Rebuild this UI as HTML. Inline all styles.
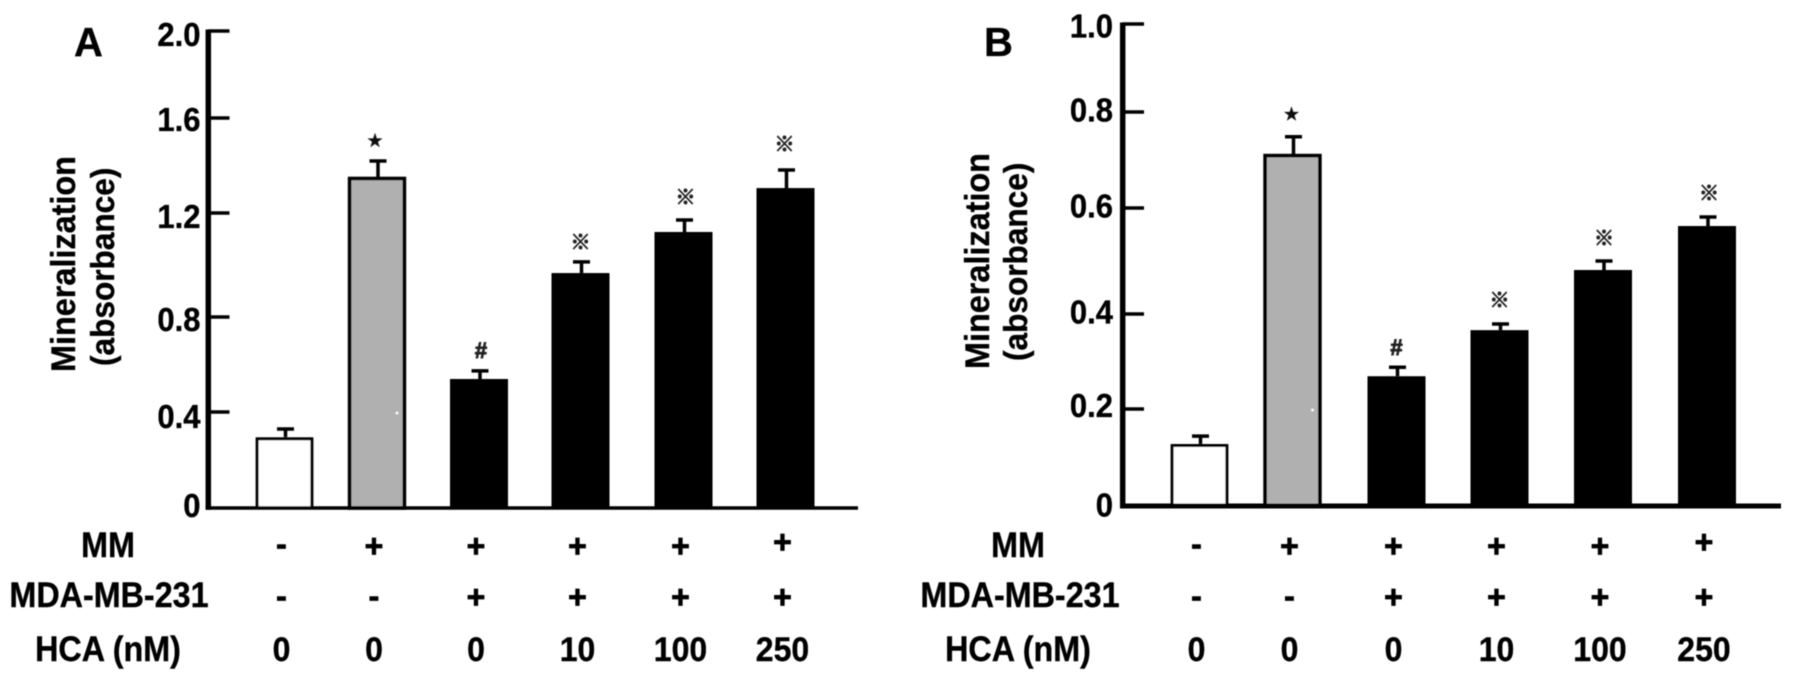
<!DOCTYPE html>
<html lang="en">
<head>
<meta charset="utf-8">
<title>Mineralization (absorbance) bar charts</title>
<style>
  html, body { margin: 0; padding: 0; background: #fff; }
  svg { display: block; }
  text { font-family: "Liberation Sans", "Noto Sans CJK JP", sans-serif; font-weight: 700; fill: #000; stroke: #000; stroke-width: 0.35px; }
</style>
</head>
<body>
<svg id="figure" width="1795" height="680" viewBox="0 0 1795 680" xmlns="http://www.w3.org/2000/svg">
  <defs>
    <filter id="soft" x="-2%" y="-2%" width="104%" height="104%"><feGaussianBlur stdDeviation="0.55"/></filter>
  </defs>
  <rect width="1795" height="680" fill="#fff"/>
  <g filter="url(#soft)">
    <g id="panel-a">
      <text transform="translate(74,56) scale(1,1.02)" font-size="40">A</text>
      <text transform="translate(75,372) rotate(-90) scale(1,1.06)" font-size="32.4">Mineralization</text>
      <text transform="translate(114,366) rotate(-90) scale(1,1.06)" font-size="31.6">(absorbance)</text>
      <text transform="translate(108,557) scale(1,1.08)" font-size="32.3" text-anchor="middle">MM</text>
      <text transform="translate(109,607) scale(1,1.08)" font-size="32.3" text-anchor="middle">MDA-MB-231</text>
      <text transform="translate(108,661) scale(1,1.08)" font-size="32.3" text-anchor="middle">HCA (nM)</text>
    </g>
    <g id="panel-b">
      <text transform="translate(984,56) scale(1,1.02)" font-size="40">B</text>
      <text transform="translate(989,369) rotate(-90) scale(1,1.06)" font-size="32.4">Mineralization</text>
      <text transform="translate(1027,361) rotate(-90) scale(1,1.06)" font-size="31.6">(absorbance)</text>
      <text transform="translate(1018,557) scale(1,1.08)" font-size="32.3" text-anchor="middle">MM</text>
      <text transform="translate(1020,607) scale(1,1.08)" font-size="32.3" text-anchor="middle">MDA-MB-231</text>
      <text transform="translate(1018,661) scale(1,1.08)" font-size="32.3" text-anchor="middle">HCA (nM)</text>
    </g>
  </g>
</svg>
<script>
// ---- chart data ----
const categories = ['control', 'mm', 'mm-mda', 'hca-10', 'hca-100', 'hca-250'];
const barKinds = ['white', 'gray', 'black', 'black', 'black', 'black'];
const mmRow = ['-', '+', '+', '+', '+', '+'];
const mdaRow = ['-', '-', '+', '+', '+', '+'];
const hcaRow = ['0', '0', '0', '10', '100', '250'];
const sigMarks = ['', '\u2605', '#', '\u203B', '\u203B', '\u203B'];

const valuesA = [0.295, 1.352, 0.539, 0.969, 1.127, 1.305];
const errorsA = [0.034, 0.067, 0.034, 0.043, 0.046, 0.076];
const tickValuesA = [0, 0.4, 0.8, 1.2, 1.6, 2.0];
const tickLabelsA = ['0', '0.4', '0.8', '1.2', '1.6', '2.0'];

const valuesB = [0.128, 0.7125, 0.269, 0.366, 0.483, 0.566];
const errorsB = [0.016, 0.036, 0.019, 0.013, 0.017, 0.017];
const tickValuesB = [0, 0.2, 0.4, 0.6, 0.8, 1.0];
const tickLabelsB = ['0', '0.2', '0.4', '0.6', '0.8', '1.0'];

// ---- axis calibration: the source figure's axes are slightly uneven ----
function axisScale(domain, range) {
  return function (v) {
    let i = 0;
    while (i < domain.length - 2 && v > domain[i + 1]) i++;
    const t = (v - domain[i]) / (domain[i + 1] - domain[i]);
    return range[i] + t * (range[i + 1] - range[i]);
  };
}
const categoryIndex = categories.map(function (c, i) { return i; });

const SVGNS = 'http://www.w3.org/2000/svg';
function shape(parent, tag, attrs) {
  const el = document.createElementNS(SVGNS, tag);
  Object.keys(attrs).forEach(function (k) { el.setAttribute(k, attrs[k]); });
  parent.appendChild(el);
  return el;
}
function label(parent, str, x, y, size, anchor, stretch) {
  const el = shape(parent, 'text', {
    transform: 'translate(' + x + ',' + y + ') scale(1,' + stretch + ')',
    'font-size': size,
    'text-anchor': anchor
  });
  el.textContent = str;
  return el;
}

function drawPanel(root, cfg) {
  const y = axisScale(cfg.tickValues, cfg.yPixels);
  const x = axisScale(categoryIndex, cfg.xPixels);
  const base = y(0);
  const barWidth = 58;

  cfg.values.forEach(function (v, i) {
    const cx = x(i);
    const top = y(v);
    const capY = y(v + cfg.errors[i]);
    const kind = barKinds[i];

    const stem = shape(root, 'line', { x1: cx + 1, x2: cx + 1, y1: capY, y2: top, stroke: '#000', 'stroke-width': 3.5 });
    
    
    const cap = shape(root, 'line', { x1: cx - 7.5, x2: cx + 9.5, y1: capY, y2: capY, stroke: '#000', 'stroke-width': 3.5 });
    
    

    const inset = kind === 'black' ? 0 : 1.6;
    const bar = shape(root, 'rect', {
      x: cx - barWidth / 2 + inset, y: top + inset,
      width: barWidth - 2 * inset, height: base - top - inset,
      fill: kind === 'white' ? '#fff' : kind === 'gray' ? '#b0b0b0' : '#000',
      stroke: kind === 'black' ? 'none' : '#000',
      'stroke-width': kind === 'gray' ? 3.6 : 3
    });
    
    

    if (kind === 'gray') {
      const speck = shape(root, 'circle', { cx: cx + 20, cy: y(cfg.tickValues[1]) + 1, r: 1.4, fill: '#fff' });
      
      
    }

    if (sigMarks[i]) {
      const m = sigMarks[i];
      const size = m === '\u2605' ? 15 : m === '#' ? 22 : 20;
      const mark = label(root, m, cx + cfg.markDx[i], capY - cfg.markLift[i] + size * 0.36, size, 'middle', 1);
      mark.setAttribute('style', m === '\u2605' ? 'fill:#111;stroke:#111;stroke-width:0.4px' : 'fill:#222;stroke:#222;stroke-width:0.9px');
      
      
    }

    const sx = cx - 3;
    const mm = label(root, mmRow[i], sx, (mmRow[i] === '+' ? 557 : 555) - (i === 5 ? 4 : 0), 32, 'middle', 1);
    mm.setAttribute('style', 'stroke-width:0.8px');
    
    
    const mda = label(root, mdaRow[i], sx, mdaRow[i] === '+' ? 608 : 607, 32, 'middle', 1);
    mda.setAttribute('style', 'stroke-width:0.8px');
    
    
    const hca = label(root, hcaRow[i], sx, 661, 32, 'middle', 1.08);
    
    
  });

  const yAxis = shape(root, 'line', { x1: cfg.axisX, x2: cfg.axisX, y1: y(cfg.tickValues[5]) - 1.5, y2: base + cfg.xAxisWidth / 2, stroke: '#000', 'stroke-width': 5.5 });
  
  
  const xAxis = shape(root, 'line', { x1: cfg.axisX - 2.7, x2: cfg.xEnd, y1: base, y2: base, stroke: '#000', 'stroke-width': cfg.xAxisWidth });
  
  

  cfg.tickValues.forEach(function (t, i) {
    if (i > 0) {
      const tick = shape(root, 'line', { x1: cfg.axisX, x2: cfg.tickEnd, y1: y(t), y2: y(t), stroke: '#000', 'stroke-width': 3.6 });
      
      
    }
    const lab = label(root, cfg.tickLabels[i], cfg.labelEnd, y(t) + cfg.labelDy[i], 31, 'end', 1.07);
    
    
  });
}

const softA = document.createElementNS(SVGNS, 'g');
const softB = document.createElementNS(SVGNS, 'g');
softA.setAttribute('filter', 'url(#soft)');
softB.setAttribute('filter', 'url(#soft)');




document.getElementById('figure').appendChild(softA);
document.getElementById('figure').appendChild(softB);

drawPanel(softA, {
  values: valuesA, errors: errorsA, tickValues: tickValuesA, tickLabels: tickLabelsA,
  yPixels: [508, 412, 317, 213, 118, 31],
  xPixels: [284.5, 377, 479, 580.5, 683.5, 785.5],
  axisX: 208.3, xEnd: 858, tickEnd: 229.5, labelEnd: 200.5, xAxisWidth: 3.6,
  labelDy: [9, 16, 14, 15, 13, 15],
  markLift: [0, 21, 21, 20, 23, 26],
  markDx: [0, -2, 2, 0, 2, -1]
});
drawPanel(softB, {
  values: valuesB, errors: errorsB, tickValues: tickValuesB, tickLabels: tickLabelsB,
  yPixels: [506, 409, 314, 208, 112, 24],
  xPixels: [1199.5, 1292.5, 1396.5, 1499.5, 1603, 1707],
  axisX: 1122.7, xEnd: 1781, tickEnd: 1144, labelEnd: 1113, xAxisWidth: 5,
  labelDy: [10.5, 8, 9.5, 9.5, 9.5, 13.5],
  markLift: [0, 23, 20, 24, 23, 24],
  markDx: [0, -1, 0, 0, 1, 2]
});
</script>
</body>
</html>
